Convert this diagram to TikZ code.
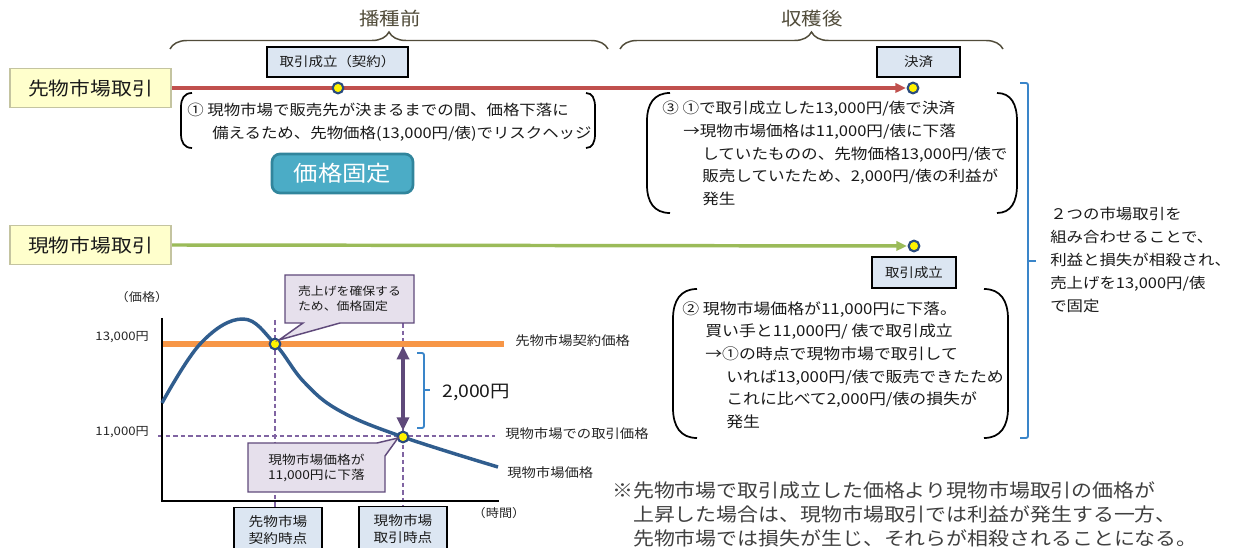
\documentclass[tikz,border=0pt]{standalone}
\usepackage{fontspec}
\setmainfont{Noto Sans CJK JP}[FakeStretch=1.12]
\usetikzlibrary{arrows.meta,decorations.pathreplacing,backgrounds}
\definecolor{titlec}{HTML}{514C3A}
\definecolor{redl}{HTML}{C0504D}
\definecolor{greenl}{HTML}{9BBB59}
\definecolor{orangel}{HTML}{F79646}
\definecolor{curvec}{HTML}{305D8E}
\definecolor{dashc}{HTML}{8064A2}
\definecolor{arrc}{HTML}{5F497A}
\definecolor{callfill}{HTML}{E6E0EC}
\definecolor{callborder}{HTML}{604A7B}
\definecolor{bluebrc}{HTML}{3A85C9}
\definecolor{dotborder}{HTML}{2B4C7E}
\definecolor{fixfill}{HTML}{4BACC6}
\definecolor{fixborder}{HTML}{31859C}
\definecolor{lblfill}{HTML}{FFFFCC}
\definecolor{lblborder}{HTML}{C4C4A0}
\definecolor{boxfill}{HTML}{DCE6F2}
\definecolor{notec}{HTML}{404040}
\definecolor{textc}{HTML}{1A1A1A}
\newcommand{\LParShape}[5]{\draw[paren] ({#1+#4},#2) .. controls ({#1+0.3*#4},#2) and (#1,{#2+0.4*#5}) .. (#1,{#2+#5}) -- (#1,{#3-#5}) .. controls (#1,{#3-0.4*#5}) and ({#1+0.3*#4},#3) .. ({#1+#4},#3);}
\newcommand{\RParShape}[5]{\draw[paren] ({#1-#4},#2) .. controls ({#1-0.3*#4},#2) and (#1,{#2+0.4*#5}) .. (#1,{#2+#5}) -- (#1,{#3-#5}) .. controls (#1,{#3-0.4*#5}) and ({#1-0.3*#4},#3) .. ({#1-#4},#3);}
\begin{document}
\begin{tikzpicture}[x=0.75pt,y=-0.75pt,
  every node/.style={text=textc},
  sectitle/.style={font=\fontsize{13.7}{16}\selectfont, text=titlec, inner sep=0pt},
  brc/.style={draw=titlec, line width=1.1pt, decorate, decoration={brace, amplitude=12.75pt}},
  mlabel/.style={draw=lblborder, fill=lblfill, line width=0.9pt, minimum width=120.75pt, minimum height=29.25pt, inner sep=0pt, font=\fontsize{13.9}{16}\selectfont},
  evbox/.style={draw=black, fill=boxfill, line width=1.1pt, inner sep=0pt, minimum height=22.5pt, font=\fontsize{9.7}{12}\selectfont},
  dot/.style={circle, draw=dotborder, fill=yellow, line width=1.6pt, minimum size=8pt, inner sep=0pt},
  body/.style={font=\fontsize{11.3}{17}\selectfont, align=left, anchor=north west, inner sep=0pt},
  paren/.style={draw=black, line width=1.3pt},
  fixbox/.style={draw=fixborder, fill=fixfill, rounded corners=6pt, line width=2pt, text=white, font=\fontsize{16.3}{18}\selectfont, minimum width=105.75pt, minimum height=29.25pt, inner sep=0pt},
  redline/.style={draw=redl, line width=2.3pt, -{Triangle[length=8pt,width=7pt]}, shorten >=0.5pt},
  greenline/.style={draw=greenl, line width=2.6pt, -{Triangle[length=8pt,width=7pt]}, shorten >=0.5pt},
  bluebr/.style={draw=bluebrc, line width=1.4pt, rounded corners=1.5pt},
  axisl/.style={draw=black, line width=1.9pt},
  orangeline/.style={draw=orangel, line width=3.9pt},
  dashl/.style={draw=dashc, line width=1.1pt, dash pattern=on 3.5pt off 2.2pt},
  curvel/.style={draw=curvec, line width=2.6pt},
  dblarr/.style={draw=arrc, line width=3pt, {Triangle[length=10pt,width=9pt]}-{Triangle[length=10pt,width=9pt]}},
  callout/.style={draw=callborder, fill=callfill, line width=1.1pt, line join=miter},
  chartlbl/.style={font=\fontsize{9.6}{12}\selectfont, inner sep=0pt, text=black!85},
  smalllbl/.style={font=\fontsize{8.8}{10}\selectfont, inner sep=0pt, text=black!85},
  timebox/.style={draw=black, fill=boxfill, line width=1.1pt, anchor=north, minimum width=66pt, inner xsep=0pt, inner ysep=5.8pt, text depth=12pt, align=center, font=\fontsize{9.8}{12.75}\selectfont}
]
\useasboundingbox (0,0) rectangle (1239,548);
\clip (0,0) rectangle (1239,548);

% --- section titles and braces
\node[sectitle] (tA) at (390,19) {播種前};
\node[sectitle] (tB) at (812,19) {収穫後};
\draw[brc] (170,49) -- (608,49);
\draw[brc] (620,49) -- (1003,49);

% --- market labels
\node[mlabel] (fut) at (90.5,88) {先物市場取引};
\node[mlabel] (spot) at (90.5,245) {現物市場取引};

% --- event boxes
\node[evbox, minimum width=105.75pt] (e1) at (337.5,62) {取引成立（契約）};
\node[evbox, minimum width=62.25pt] (e2) at (918.5,62) {決済};
\node[evbox, minimum width=63pt, minimum height=23.25pt] (e3) at (914,272.5) {取引成立};

% --- dots on timelines
\node[dot] (c1) at (338,88) {};
\node[dot] (c2) at (913,88) {};
\node[dot] (c3) at (914,246) {};

\begin{pgfonlayer}{background}
\fill[white] (0,0) rectangle (1239,548);
\draw[redline] (fut.east) -- (c2.west);
\draw[greenline] (spot.east) -- (c3.west);
\end{pgfonlayer}

% --- explanation ①
\LParShape{181}{93}{148}{11}{14}
\RParShape{595}{93}{148}{9}{14}
\node[body, font=\fontsize{11}{17}\selectfont] (t1) at (187,103) {① 現物市場で販売先が決まるまでの間、価格下落に\\\hspace*{18.75pt}備えるため、先物価格(13,000円/俵)でリスクヘッジ};
\node[fixbox] (fix) at (342.5,173.5) {価格固定};

% --- explanation ③
\LParShape{647}{93}{213}{23}{28}
\RParShape{1017}{93}{213}{20}{28}
\node[body, font=\fontsize{11.1}{17}\selectfont] (t3) at (662,101) {③ ①で取引成立した13,000円/俵で決済\\\hspace*{15.75pt}→現物市場価格は11,000円/俵に下落\\\hspace*{30pt}していたものの、先物価格13,000円/俵で\\\hspace*{30pt}販売していたため、2,000円/俵の利益が\\\hspace*{30pt}発生};

% --- explanation ②
\LParShape{673}{289}{438}{24}{30}
\RParShape{1008}{289}{438}{24}{30}
\node[body] (t2) at (682,301) {② 現物市場価格が11,000円に下落。\\\hspace*{17.25pt}買い手と11,000円/ 俵で取引成立\\\hspace*{17.25pt}→①の時点で現物市場で取引して\\\hspace*{33pt}いれば13,000円/俵で販売できたため\\\hspace*{33pt}これに比べて2,000円/俵の損失が\\\hspace*{33pt}発生};

% --- right bracket and summary
\draw[bluebr] (1020,83) -- (1028,83) -- (1028,438) -- (1020,438);
\draw[bluebr] (1028,261) -- (1036,261);
\node[body, font=\fontsize{11}{17.25}\selectfont] (tr) at (1050,207) {２つの市場取引を\\組み合わせることで、\\利益と損失が相殺され、\\売上げを13,000円/俵\\で固定};

% --- footnote
\node[body, font=\fontsize{14}{18}\selectfont, text=notec] (fn) at (612,481) {※先物市場で取引成立した価格より現物市場取引の価格が\\\phantom{※}上昇した場合は、現物市場取引では利益が発生する一方、\\\phantom{※}先物市場では損失が生じ、それらが相殺されることになる。};

% --- chart
\draw[dashl] (158,436) -- (495,436);
\draw[dashl] (275,320) -- (275,507);
\draw[dashl] (403,323) -- (403,506);
\draw[orangeline] (162,344) -- (504,344);
\draw[axisl] (162,318) -- (162,501) -- (499,501);
\draw[curvel] plot[smooth, tension=0.65] coordinates {(162,403) (201,343) (243,319) (275,344) (304,382) (340,411) (403,437) (498,467)};

\node[dot] (c4) at (275,344) {};
\node[dot] (c5) at (403,437) {};
\coordinate (ptop) at (403,346);
\draw[dblarr] (ptop) -- (c5.north);

\draw[bluebr] (417,353) -- (424,353) -- (424,428) -- (417,428);
\draw[bluebr] (424,390) -- (430,390);
\node[anchor=west, inner sep=0pt, font=\fontsize{13}{14}\selectfont] (diff) at (442,392) {2,000円};

% callouts
\draw[callout] (285,275) -- (414,275) -- (414,323) -- (340,323) -- (279,340) -- (303,323) -- (285,323) -- cycle;
\node[align=left, inner sep=0pt, font=\fontsize{8.6}{11.5}\selectfont] (cb1) at (349.5,299) {売上げを確保する\\ため、価格固定};
\draw[callout] (248,443) -- (377,443) -- (398,438) -- (385,456) -- (385,492) -- (248,492) -- cycle;
\node[align=center, inner sep=0pt, font=\fontsize{9.2}{11.5}\selectfont] (cb2) at (316.5,468) {現物市場価格が\\11,000円に下落};

% axis labels
\node[smalllbl] (yl) at (142,297) {（価格）};
\node[smalllbl] (xl) at (499,513) {（時間）};
\node[smalllbl, anchor=east] (y13) at (149,337) {13,000円};
\node[smalllbl, anchor=east] (y11) at (149,432) {11,000円};
\node[chartlbl, anchor=west] (lf) at (515,341) {先物市場契約価格};
\node[chartlbl, anchor=west] (ls) at (505,434) {現物市場での取引価格};
\node[chartlbl, anchor=west] (lc) at (507,473) {現物市場価格};

% time boxes
\node[timebox] (tb1) at (278,507) {先物市場\\契約時点};
\node[timebox] (tb2) at (403,506) {現物市場\\取引時点};
\end{tikzpicture}
\end{document}
